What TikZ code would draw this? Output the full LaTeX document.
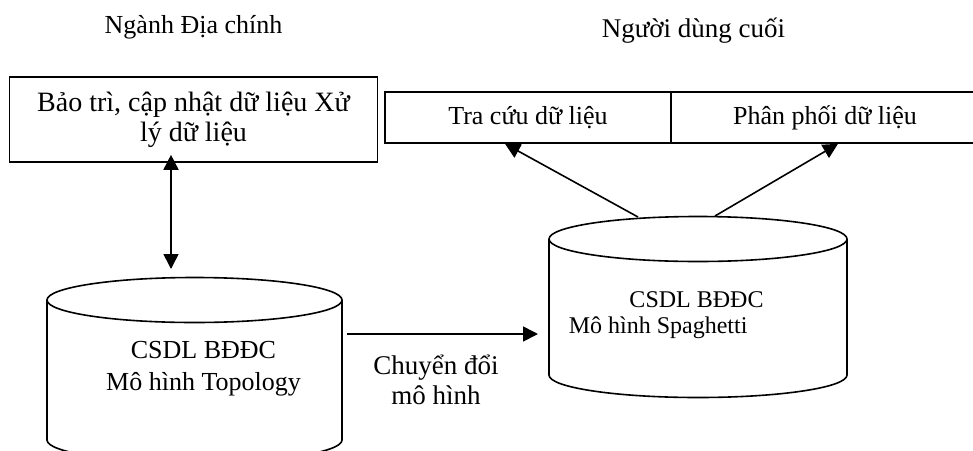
\documentclass[tikz,border=0pt]{standalone}
\usepackage{fontspec}
\setmainfont{Liberation Serif}
\usetikzlibrary{arrows.meta}
\tikzset{>={Triangle[length=15pt,width=15pt]}}
\tikzset{txt/.style={font=\fontsize{26}{30}\selectfont,align=center,inner sep=0pt},
  box/.style={txt,draw,line width=1.6pt}}

\begin{document}
\begin{tikzpicture}[x=1pt,y=-1pt,line width=1.6pt]
\useasboundingbox (0,0) rectangle (973,450);
\clip (0,0) rectangle (973,450);
\node[txt] (hdrCad) at (193.5,27) {Ngành Địa chính};
\node[txt,font=\fontsize{27}{30}\selectfont] (hdrUser) at (693.5,31) {Người dùng cuối};
% boxes
\node[box,font=\fontsize{28}{30}\selectfont,minimum width=368pt,minimum height=85pt] (upkeep) at (193.5,119.5) {Bảo trì, cập nhật dữ liệu Xử\\lý dữ liệu};
\node[box,minimum width=286pt,minimum height=51pt] (lookup) at (528,117.5) {Tra cứu dữ liệu};
\node[box,minimum width=308pt,minimum height=51pt] (share) at (825,117.5) {Phân phối dữ liệu};
% topology database
\draw (194.5,300) ellipse [x radius=147.5, y radius=22.5];
\draw (47,300) -- (47,440) arc (180:0:147.5 and 22.5) -- (342,300);
\node[txt] (topoDb) at (203.5,369) {CSDL BĐĐC\\[2pt]Mô hình Topology};
% spaghetti database
\draw (698,239) ellipse [x radius=149, y radius=22.5];
\draw (549,239) -- (549,375) arc (180:0:149 and 22.5) -- (847,239);
\node[txt,font=\fontsize{24}{28}\selectfont] (spagHead) at (696.5,300) {CSDL BĐĐC};
\node[txt,font=\fontsize{24}{28}\selectfont,anchor=west] (spagBody) at (568,328) {Mô hình Spaghetti};
% connectors
\coordinate (topoTop) at (171,269);
\path (upkeep.south) ++(-22.5,-8) coordinate (upkeepFoot);
\draw[<->] (upkeepFoot) -- (topoTop);
\coordinate (spagTopA) at (638,217);
\coordinate (spagTopB) at (715,216);
\path (lookup.south) ++(-23,0) coordinate (lookupFoot);
\path (share.south) ++(13,0) coordinate (shareFoot);
\draw[->] (spagTopA) -- (lookupFoot);
\draw[->] (spagTopB) -- (shareFoot);
\coordinate (topoSide) at (347,334);
\coordinate (spagSide) at (538,334);
\draw[->] (topoSide) -- (spagSide);
\node[txt,font=\fontsize{27}{30}\selectfont] (convLbl) at (436,380) {Chuyển đổi\\mô hình};
\end{tikzpicture}
\end{document}
